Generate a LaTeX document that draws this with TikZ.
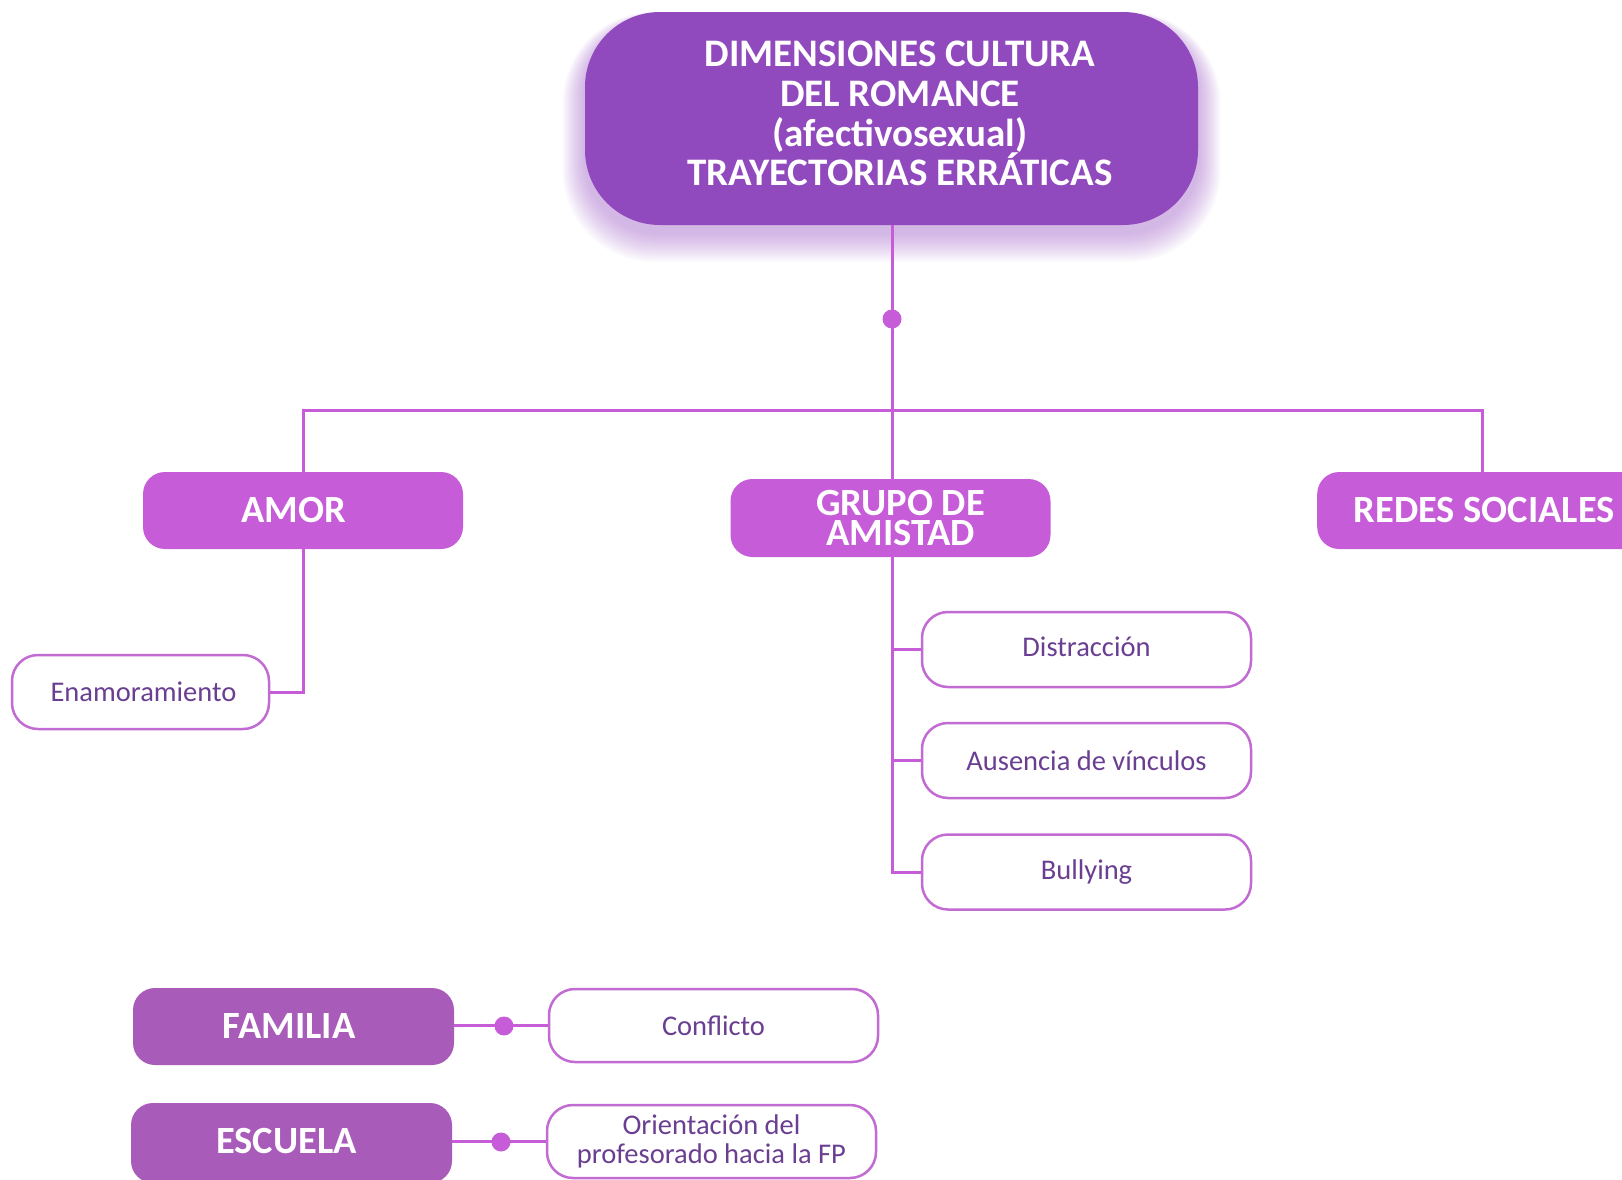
\documentclass[tikz,border=0pt]{standalone}
\usepackage{fontspec}
\setmainfont{Carlito}
\usetikzlibrary{calc}
\definecolor{topc}{HTML}{9149BE}
\definecolor{branchc}{HTML}{C65CD8}
\definecolor{darkc}{HTML}{A95BBA}
\definecolor{txtc}{HTML}{6A3F92}
\definecolor{borderc}{HTML}{C26BD3}
\tikzset{
  conn/.style={draw=branchc, line width=3pt},
  topbox/.style={fill=topc, rounded corners=75pt, minimum width=613pt, minimum height=213pt, inner sep=0pt},
  toptext/.style={text=white, align=center, inner sep=0pt, font=\fontsize{39}{39.8}\selectfont\bfseries},
  branchbox/.style={fill=branchc, rounded corners=22pt, minimum width=320pt, minimum height=77pt, inner sep=0pt},
  darkbox/.style={fill=darkc, rounded corners=22pt, minimum width=321pt, minimum height=77pt, inner sep=0pt},
  btext/.style={text=white, align=center, inner sep=0pt, font=\fontsize{38.5}{30.5}\selectfont\bfseries},
  leafbox/.style={fill=white, draw=borderc, line width=2.5pt, text=txtc, rounded corners=26pt, minimum width=329pt, minimum height=73pt, align=center, inner sep=0pt, font=\fontsize{28.5}{29}\selectfont},
  dotn/.style={circle, fill=branchc, minimum size=19pt, inner sep=0pt}
}
\begin{document}
\begin{tikzpicture}[x=1pt,y=-1pt]
\useasboundingbox (0,0) rectangle (1622,1179);
% glow behind top box
\foreach \i in {1,...,16}{
  \fill[topc, opacity=0.03, rounded corners={75pt+\i pt}] (585-\i*1.4,12-\i*0.5+8) rectangle (1198+\i*1.4,225+\i*1.8+8);
}
\node[topbox] (top) at (891.5,118.5) {};
\node[toptext] (toplbl) at ([xshift=8.5pt,yshift=5pt]top.center) {DIMENSIONES CULTURA\\DEL ROMANCE\\(afectivosexual)\\TRAYECTORIAS ERRÁTICAS};
\coordinate (hub) at (892,410);
\node[branchbox] (amor) at (303,510.5) {};
\node[btext] (amorl) at ([xshift=-9pt,yshift=1pt]amor.center) {AMOR};
\node[branchbox, minimum height=78pt] (grupo) at (890.5,518) {};
\node[btext] (grupol) at ([xshift=10pt]grupo.center) {GRUPO DE\\AMISTAD};
\node[branchbox, minimum width=330pt, anchor=west] (redes) at (1317,510.5) {};
\node[btext] (redesl) at ([xshift=2pt,yshift=1pt]redes.center) {REDES SOCIALES};
\node[leafbox, minimum width=257pt, minimum height=74pt] (ena) at (140.5,692) {\hspace*{6pt}Enamoramiento};
\node[leafbox, minimum height=75pt] (dis) at (1086.5,649.5) {Distracción\vphantom{g}};
\node[leafbox, minimum height=75pt] (aus) at (1086.5,760.5) {Ausencia de vínculos};
\node[leafbox, minimum height=75pt] (bul) at (1086.5,872) {Bullying};
\node[darkbox] (fam) at (293.5,1026.5) {};
\node[btext] (faml) at ([xshift=-4.5pt,yshift=1pt]fam.center) {FAMILIA};
\node[leafbox] (con) at (713.5,1025.5) {Conflicto};
\node[darkbox, minimum height=80pt] (esc) at (291.5,1143) {};
\node[btext] (escl) at ([xshift=-5pt,yshift=2pt]esc.center) {ESCUELA};
\node[leafbox] (ori) at (711.5,1141.5) {Orientación del\\profesorado hacia la FP};
% connectors
\draw[conn] (top.south -| hub) -- (hub);
\node[dotn] (d1) at (892,319) {};
\draw[conn] (hub) -| (amor.north);
\draw[conn] (hub) -| (redes.north);
\draw[conn] (hub) -- (hub |- grupo.north);
\draw[conn] (hub |- grupo.south) |- (dis.west);
\draw[conn] (hub |- grupo.south) |- (aus.west);
\draw[conn] (hub |- grupo.south) |- (bul.west);
\draw[conn] (amor.south) |- (ena.east);
\draw[conn] (fam.east |- con.west) -- (con.west);
\node[dotn] (d2) at (504,1026) {};
\draw[conn] (esc.east |- ori.west) -- (ori.west);
\node[dotn] (d3) at (501,1142) {};
\end{tikzpicture}
\end{document}
